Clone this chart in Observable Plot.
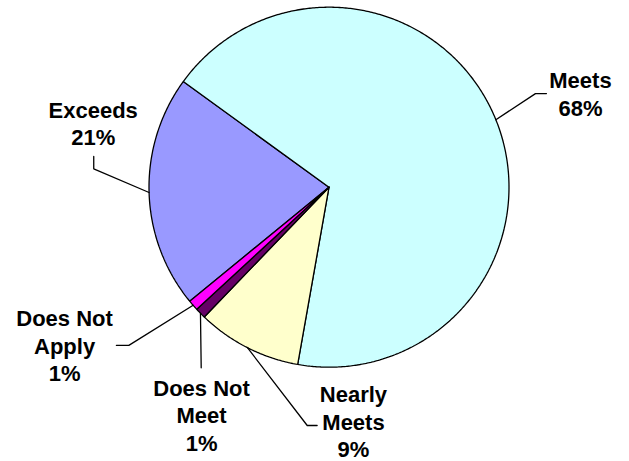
<!DOCTYPE html>
<html><head><meta charset="utf-8">
<script src="https://cdn.jsdelivr.net/npm/d3@7"></script>
<script src="https://cdn.jsdelivr.net/npm/@observablehq/plot@0.6"></script>
<style>body{margin:0;background:#fff}</style>
</head><body><div id="chart"></div>
<script>
// ---- data ----
const categories = ["Exceeds", "Meets", "Nearly Meets", "Does Not Meet", "Does Not Apply"];
const labelNames = ["Exceeds", "Meets", "Nearly\nMeets", "Does Not\nMeet", "Does Not\nApply"];
const values = [20.9, 67.8, 9.4, 0.95, 0.95];
const colors = ["#9999FF", "#CCFFFF", "#FFFFCC", "#660066", "#FF00FF"];

// ---- layout (pie-radius units, origin = pie centre, y up) ----
const startDeg = 230.7;
const labelLayout = {
  "Exceeds":        {elbow: [-1.307, 0.102], end: [-1.307, 0.171], text: [-1.310, 0.232]},
  "Meets":          {elbow: [1.147, 0.520],  end: [1.208, 0.520],  text: [1.397, 0.398]},
  "Nearly Meets":   {elbow: [-0.121, -1.324], end: [-0.066, -1.324], text: [0.136, -1.500]},
  "Does Not Meet":  {elbow: [-0.710, -1.003], end: [-0.710, -1.003], text: [-0.708, -1.463]},
  "Does Not Apply": {elbow: [-1.112, -0.879], end: [-1.181, -0.879], text: [-1.469, -1.079]}
};

const W = 629, H = 461, cx = 328.5, cy = 186.7, R = 180;

const start = startDeg * Math.PI / 180;
const arcs = d3.pie().sort(null).value(d => d).startAngle(start).endAngle(start + 2 * Math.PI)(values);

const pt = (a, r = 1) => ({x: r * Math.sin(a), y: r * Math.cos(a)});

const marks = [];
arcs.forEach((a, i) => {
  const n = Math.max(2, Math.ceil((a.endAngle - a.startAngle) / (Math.PI / 360)));
  const pts = [{x: 0, y: 0}];
  for (let k = 0; k <= n; k++) pts.push(pt(a.startAngle + (a.endAngle - a.startAngle) * k / n));
  pts.push({x: 0, y: 0});
  marks.push(Plot.line(pts, {x: "x", y: "y", fill: colors[i], stroke: "#000", strokeWidth: 1.3, curve: "linear", strokeLinejoin: "miter"}));
});

arcs.forEach((a, i) => {
  const L = labelLayout[categories[i]];
  const mid = (a.startAngle + a.endAngle) / 2;
  const s = pt(mid);
  const pts = [s, {x: L.elbow[0], y: L.elbow[1]}, {x: L.end[0], y: L.end[1]}];
  marks.push(Plot.line(pts, {x: "x", y: "y", stroke: "#000", strokeWidth: 1.3}));
  const txt = labelNames[i] + "\n" + Math.round(values[i]) + "%";
  marks.push(Plot.text([{x: L.text[0], y: L.text[1], t: txt}], {
    x: "x", y: "y", text: "t", fontSize: 22, fontWeight: "bold",
    fontFamily: "'Liberation Sans', Arial, sans-serif", lineAnchor: "bottom",
    lineHeight: 1.25, textAnchor: "middle", fill: "#000"
  }));
});

const chart = Plot.plot({
  width: W, height: H, margin: 0,
  x: {domain: [-cx / R, (W - cx) / R], axis: null},
  y: {domain: [-(H - cy) / R, cy / R], axis: null},
  style: {background: "#fff", overflow: "visible"},
  marks
});
document.getElementById("chart").appendChild(chart);
</script>
</body></html>
